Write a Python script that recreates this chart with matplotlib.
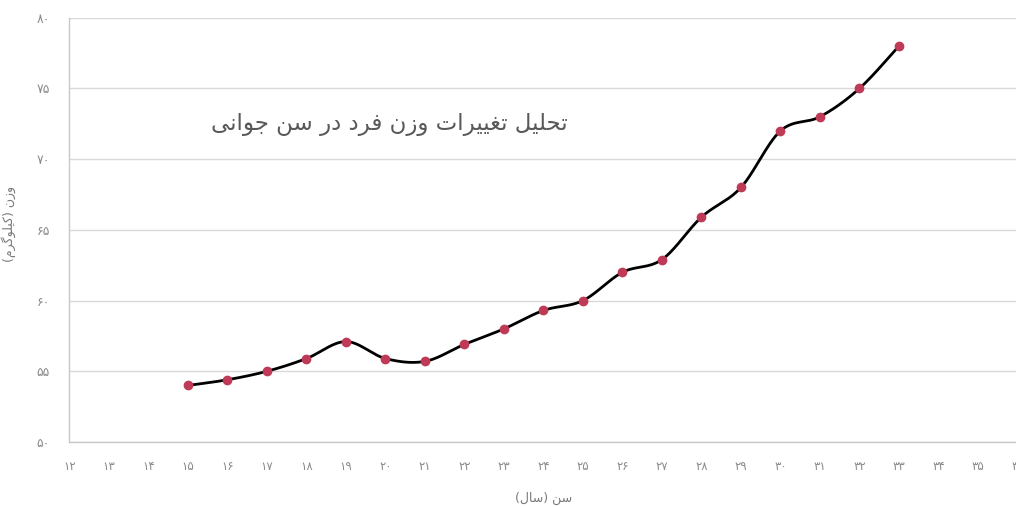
import numpy as np
import matplotlib
matplotlib.use("Agg")
import matplotlib.pyplot as plt

# age (years) and weight (kg)
ages = [15, 16, 17, 18, 19, 20, 21, 22, 23, 24, 25, 26, 27, 28, 29, 30, 31, 32, 33]
weights = [54.0, 54.4, 55.0, 55.9, 57.1, 55.9, 55.7, 56.9, 58.0, 59.3, 60.0,
           62.0, 62.9, 65.9, 68.0, 72.0, 73.0, 75.0, 78.0]

x_ticks = list(range(12, 37))
y_ticks = [50, 55, 60, 65, 70, 75, 80]

title_text = "تحلیل تغییرات وزن فرد در سن جوانی"
x_label = "سن (سال)"
y_label = "وزن (کیلوگرم)"

# contextual forms: (isolated, final, initial, medial)
FORMS = {
    'ا': ('\uFE8D', '\uFE8E'),
    'د': ('\uFEA9', '\uFEAA'),
    'ر': ('\uFEAD', '\uFEAE'),
    'ز': ('\uFEAF', '\uFEB0'),
    'و': ('\uFEED', '\uFEEE'),
    'ت': ('\uFE95', '\uFE96', '\uFE97', '\uFE98'),
    'ج': ('\uFE9D', '\uFE9E', '\uFE9F', '\uFEA0'),
    'ح': ('\uFEA1', '\uFEA2', '\uFEA3', '\uFEA4'),
    'س': ('\uFEB1', '\uFEB2', '\uFEB3', '\uFEB4'),
    'غ': ('\uFECD', '\uFECE', '\uFECF', '\uFED0'),
    'ف': ('\uFED1', '\uFED2', '\uFED3', '\uFED4'),
    'ل': ('\uFEDD', '\uFEDE', '\uFEDF', '\uFEE0'),
    'م': ('\uFEE1', '\uFEE2', '\uFEE3', '\uFEE4'),
    'ن': ('\uFEE5', '\uFEE6', '\uFEE7', '\uFEE8'),
    'ی': ('\uFBFC', '\uFBFD', '\uFBFE', '\uFBFF'),
    'ک': ('\uFB8E', '\uFB8F', '\uFB90', '\uFB91'),
    'گ': ('\uFB92', '\uFB93', '\uFB94', '\uFB95'),
}


def shape_rtl(s):
    out = []
    for i, ch in enumerate(s):
        if ch not in FORMS:
            out.append({'(': ')', ')': '('}.get(ch, ch))
            continue
        prev = s[i - 1] if i > 0 else ''
        nxt = s[i + 1] if i + 1 < len(s) else ''
        join_prev = prev in FORMS and len(FORMS[prev]) == 4
        join_next = len(FORMS[ch]) == 4 and nxt in FORMS
        f = FORMS[ch]
        if join_prev and join_next:
            out.append(f[3])
        elif join_prev:
            out.append(f[1])
        elif join_next:
            out.append(f[2])
        else:
            out.append(f[0])
    return ''.join(reversed(out))


def fa_digits(n):
    return str(n).translate(str.maketrans('0123456789', '۰۱۲۳۴۵۶۷۸۹'))


def smooth(xs, ys, n=30):
    # Bezier smoothing through every point
    xs = np.asarray(xs, float)
    ys = np.asarray(ys, float)
    px = np.concatenate([[xs[0]], xs, [xs[-1]]])
    py = np.concatenate([[ys[0]], ys, [ys[-1]]])
    ox, oy = [], []
    t = np.linspace(0, 1, n)[:, None]
    for i in range(1, len(px) - 2):
        p0 = np.array([px[i], py[i]])
        p3 = np.array([px[i + 1], py[i + 1]])
        c1 = p0 + (np.array([px[i + 1], py[i + 1]]) - np.array([px[i - 1], py[i - 1]])) / 6
        c2 = p3 - (np.array([px[i + 2], py[i + 2]]) - p0) / 6
        b = ((1 - t) ** 3) * p0 + 3 * ((1 - t) ** 2) * t * c1 + 3 * (1 - t) * t ** 2 * c2 + t ** 3 * p3
        ox.extend(b[:, 0])
        oy.extend(b[:, 1])
    return np.array(ox), np.array(oy)


plt.rcParams['font.family'] = ['DejaVu Sans']

fig = plt.figure(figsize=(10.16, 5.08), dpi=100)
ax = fig.add_axes([0.0684, 0.130, 0.933, 0.835])

sx, sy = smooth(ages, weights)
ax.plot(sx, sy, color='black', linewidth=2.0, zorder=3)
ax.plot(ages, weights, 'o', color='#bf3a56', markersize=6, zorder=4)

ax.set_xlim(12, 36)
ax.set_ylim(50, 80)
ax.set_xticks(x_ticks)
ax.set_xticklabels([fa_digits(v) for v in x_ticks])
ax.set_yticks(y_ticks)
ax.set_yticklabels([fa_digits(v) for v in y_ticks])
ax.tick_params(axis='x', length=0, pad=13, labelsize=8.5, labelcolor='#8a8a8a')
ax.tick_params(axis='y', length=0, pad=14, labelsize=9, labelcolor='#8a8a8a')

ax.grid(axis='y', color='#d9d9d9', linewidth=1)
ax.set_axisbelow(True)
for side in ('top', 'right'):
    ax.spines[side].set_visible(False)
for side in ('left', 'bottom'):
    ax.spines[side].set_color('#c8c8c8')
    ax.spines[side].set_linewidth(1)

ax.set_xlabel(shape_rtl(x_label), fontsize=9, color='#7a7a7a')
ax.xaxis.set_label_coords(0.4997, -0.118)
ax.set_ylabel(shape_rtl(y_label), fontsize=9, color='#7a7a7a')
ax.yaxis.set_label_coords(-0.056, 0.515)

ax.text(20.1, 72.45, shape_rtl(title_text), fontsize=16.5, color='#595959',
        ha='center', va='center')

fig.savefig('out.png', dpi=100)
